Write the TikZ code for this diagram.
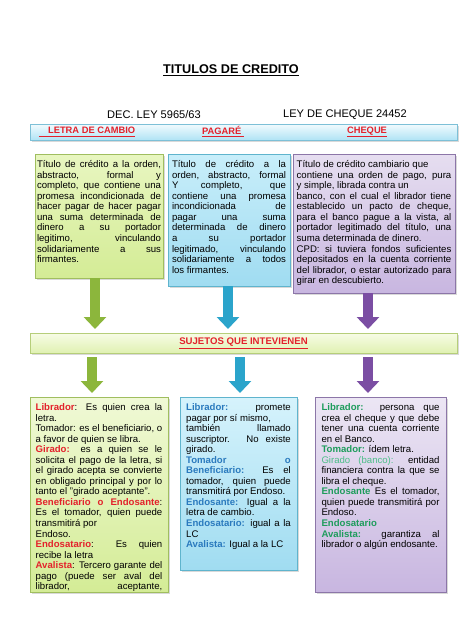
\documentclass[tikz,border=0pt]{standalone}
\usepackage{fontspec}
\setmainfont{Liberation Sans}
\usepackage{tikz}
\usetikzlibrary{arrows.meta,shadows}

\definecolor{lcred}{RGB}{227,33,43}
\definecolor{pgblue}{RGB}{42,122,190}
\definecolor{chgreen}{RGB}{30,156,92}
\definecolor{chlight}{RGB}{76,190,136}

\begin{document}
\begin{tikzpicture}[x=0.75pt,y=0.75pt,yscale=-1,xscale=1,
  every node/.style={font=\fontsize{7.2}{7.9}\selectfont, inner sep=0pt},
  boxshadow/.style={drop shadow={shadow xshift=1.3pt, shadow yshift=-1.3pt, opacity=0.3}},
  greenbox/.style={boxshadow, draw={rgb, 255:red, 160; green, 190; blue, 95 }, line width=0.6pt, inner ysep=5pt,
    top color={rgb, 255:red, 232; green, 246; blue, 192 }, bottom color={rgb, 255:red, 212; green, 236; blue, 150 }},
  bluebox/.style={boxshadow, draw={rgb, 255:red, 95; green, 180; blue, 205 }, line width=0.6pt, inner ysep=5pt,
    top color={rgb, 255:red, 200; green, 238; blue, 250 }, bottom color={rgb, 255:red, 160; green, 220; blue, 241 }},
  purplebox/.style={boxshadow, draw={rgb, 255:red, 140; green, 118; blue, 168 }, line width=0.6pt, inner ysep=5pt,
    top color={rgb, 255:red, 230; green, 222; blue, 240 }, bottom color={rgb, 255:red, 200; green, 182; blue, 224 }},
  barlabel/.style={font=\fontsize{7}{8}\selectfont\bfseries, text=lcred},
  greenarrow/.style={line width=7.5pt, color={rgb, 255:red, 140; green, 182; blue, 60 }, -{Triangle[width=16.5pt,length=9pt]}},
  bluearrow/.style={line width=7.5pt, color={rgb, 255:red, 43; green, 164; blue, 203 }, -{Triangle[width=16.5pt,length=9pt]}},
  purplearrow/.style={line width=7.5pt, color={rgb, 255:red, 123; green, 78; blue, 163 }, -{Triangle[width=16.5pt,length=9pt]}}
]
\useasboundingbox (0,0) rectangle (474,632);

%Title
\node (title) at (231,70) {\fontsize{9.5}{11}\selectfont\bfseries\underline{TITULOS DE CREDITO}};
\node (dec) at (154,115) {\fontsize{8.3}{9}\selectfont DEC. LEY 5965/63};
\node (ley) at (345,115) {\fontsize{8.3}{9}\selectfont LEY DE CHEQUE 24452};

%Shape: Rectangle (header bar)
\node [boxshadow, draw={rgb, 255:red, 125; green, 192; blue, 215 }, line width=0.6pt, minimum width=320.25pt, minimum height=12pt,
  top color={rgb, 255:red, 242; green, 251; blue, 254 }, bottom color={rgb, 255:red, 176; green, 227; blue, 245 }] (hdr) at (243.5,132) {};
\node [barlabel] (lcname) at (87,132) {\underline{\hspace{7pt}LETRA DE CAMBIO}};
\node [barlabel] (pgname) at (223,132) {\underline{PAGARÉ\hspace{2pt}}};
\node [barlabel] (chname) at (367,132) {\underline{CHEQUE}};

%Shape: Rectangle (definitions)
\node [greenbox, minimum width=96pt] (lcdef) at (99,216) {\parbox[t][83pt][t]{93pt}{%
Título de crédito a la orden,\linebreak abstracto, formal y\linebreak completo, que contiene una\linebreak promesa incondicionada de\linebreak hacer pagar de hacer pagar\linebreak una suma determinada de\linebreak dinero a su portador\linebreak legitimo, vinculando\linebreak solidariamente a sus\linebreak firmantes.}};
\node [bluebox, minimum width=91.5pt] (pgdef) at (229,220) {\parbox[t][89pt][t]{85.5pt}{%
Título de crédito a la\linebreak orden, abstracto, formal\linebreak Y completo, que\linebreak contiene una promesa\linebreak incondicionada de\linebreak pagar una suma\linebreak determinada de dinero\linebreak a su portador\linebreak legitimado, vinculando\linebreak solidariamente a todos\linebreak los firmantes.}};
\node [purplebox, minimum width=121.5pt] (chdef) at (374,223.5) {\parbox[t][94.25pt][t]{116pt}{%
Título de crédito cambiario que\newline contiene una orden de pago, pura\linebreak y simple, librada contra un\newline banco, con el cual el librador tiene\linebreak establecido un pacto de cheque,\linebreak para el banco pague a la vista, al\linebreak portador legitimado del título, una\linebreak suma determinada de dinero.\newline CPD: si tuviera fondos suficientes\linebreak depositados en la cuenta corriente\linebreak del librador, o estar autorizado para\linebreak girar en descubierto.}};

%Shape: Rectangle (sujetos)
\node [boxshadow, draw={rgb, 255:red, 182; green, 206; blue, 122 }, line width=0.6pt, minimum width=320.25pt, minimum height=15pt,
  top color={rgb, 255:red, 247; green, 252; blue, 230 }, bottom color={rgb, 255:red, 224; green, 241; blue, 178 },
  font=\fontsize{7.2}{8}\selectfont\bfseries, text=lcred] (suj) at (243.5,343) {\underline{SUJETOS QUE INTEVIENEN}};

%Shape: Rectangle (sujetos per title)
\node [greenbox, minimum width=103.5pt, top color={rgb, 255:red, 240; green, 249; blue, 214 }] (lcsuj) at (99,494.5) {\parbox[t][136.25pt][t]{95pt}{%
\textcolor{lcred}{\textbf{Librador}}: Es quien crea la\linebreak letra.\newline Tomador: es el beneficiario, o\linebreak a favor de quien se libra.\newline \textcolor{lcred}{\textbf{Girado:}} es a quien se le\linebreak solicita el pago de la letra, si\linebreak el girado acepta se convierte\linebreak en obligado principal y por lo\linebreak tanto el "girado aceptante".\newline \textcolor{lcred}{\textbf{Beneficiario o Endosante}}:\linebreak Es el tomador, quien puede\linebreak transmitirá por\newline Endoso.\newline \textcolor{lcred}{\textbf{Endosatario}}: Es quien\linebreak recibe la letra\newline \textcolor{lcred}{\textbf{Avalista}}: Tercero garante del\linebreak pago (puede ser aval del\linebreak librador,\hfill aceptante,}};
\node [bluebox, minimum width=87.75pt, top color={rgb, 255:red, 214; green, 243; blue, 252 }] (pgsuj) at (238.5,483.5) {\parbox[t][119.75pt][t]{78.5pt}{%
\textcolor{pgblue}{\textbf{Librador:}} promete\linebreak pagar por sí mismo,\newline también llamado\linebreak suscriptor. No existe\linebreak girado.\newline \textcolor{pgblue}{\textbf{Tomador o}}\linebreak \textcolor{pgblue}{\textbf{Beneficiario:}} Es el\linebreak tomador, quien puede\linebreak transmitirá por Endoso.\newline \textcolor{pgblue}{\textbf{Endosante:}} Igual a la\linebreak letra de cambio.\newline \textcolor{pgblue}{\textbf{Endosatario:}} igual a la\linebreak LC\newline \textcolor{pgblue}{\textbf{Avalista:}} Igual a la LC}};
\node [purplebox, minimum width=98.25pt, top color={rgb, 255:red, 236; green, 230; blue, 244 }] (chsuj) at (380.5,494.5) {\parbox[t][136.25pt][t]{88.5pt}{%
\textcolor{chgreen}{\textbf{Librador:}} persona que\linebreak crea el cheque y que debe\linebreak tener una cuenta corriente\linebreak en el Banco.\newline \textcolor{chgreen}{\textbf{Tomador:}} ídem letra.\newline \textcolor{chlight}{Girado (banco):} entidad\linebreak financiera contra la que se\linebreak libra el cheque.\newline \textcolor{chgreen}{\textbf{Endosante}} Es el tomador,\linebreak quien puede transmitirá por\linebreak Endoso.\newline \textcolor{chgreen}{\textbf{Endosatario}}\newline \textcolor{chgreen}{\textbf{Avalista:}} garantiza al\linebreak librador o algún endosante.}};

%Arrows
\coordinate (a1) at (95,329);
\coordinate (a2) at (228,329);
\coordinate (a3) at (368,329);
\coordinate (b1) at (92,393);
\coordinate (b2) at (240,393);
\coordinate (b3) at (368,393);
\draw [greenarrow] (a1 |- lcdef.south) -- (a1);
\draw [bluearrow] (a2 |- pgdef.south) -- (a2);
\draw [purplearrow] (a3 |- chdef.south) -- (a3);
\draw [greenarrow, shorten <=3pt] (b1 |- suj.south) -- (b1);
\draw [bluearrow, shorten <=3pt] (b2 |- suj.south) -- (b2);
\draw [purplearrow, shorten <=3pt] (b3 |- suj.south) -- (b3);
\end{tikzpicture}
\end{document}
